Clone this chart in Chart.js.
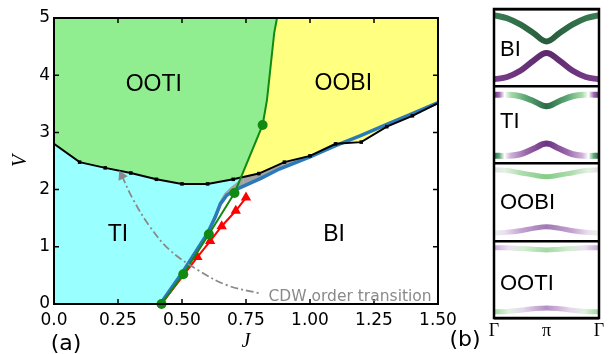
<!DOCTYPE html>
<html>
<head>
<meta charset="utf-8">
<script src="https://cdn.jsdelivr.net/npm/chart.js@4.4.1/dist/chart.umd.min.js"></script>
<style>
  body { margin: 0; background: #fff; }
  #wrap { position: relative; width: 611px; height: 354px; }
  #phaseBox { position: absolute; left: 0; top: 0; width: 611px; height: 354px; }
  #bandBox { position: absolute; left: 470px; top: 0; width: 141px; height: 354px; }
</style>
</head>
<body>
<div id="wrap">
  <div id="phaseBox"><canvas id="phaseChart"></canvas></div>
  <div id="bandBox"><canvas id="bandChart"></canvas></div>
</div>
<script>
// (a) phase boundaries as (J, V)
const blackJ = [0, 0.1, 0.2, 0.3, 0.4, 0.5, 0.6, 0.7, 0.8, 0.9, 1.0, 1.1, 1.2, 1.3, 1.4, 1.5];
const blackV = [2.80, 2.48, 2.38, 2.29, 2.18, 2.10, 2.10, 2.18, 2.28, 2.48, 2.59, 2.80, 2.83, 3.10, 3.29, 3.51];

const greenJ = [0.42, 0.505, 0.605, 0.705, 0.815, 0.832, 0.846, 0.86, 0.871];
const greenV = [0, 0.52, 1.22, 1.94, 3.13, 3.57, 4.15, 4.73, 5.0];

const blueJ = [0.415, 0.5, 0.6, 0.63, 0.65, 0.675, 0.71, 0.76, 0.81, 0.88, 1.0, 1.1, 1.2, 1.3, 1.4, 1.5];
const blueV = [0, 0.54, 1.24, 1.52, 1.75, 1.9, 2.0, 2.1, 2.2, 2.36, 2.57, 2.77, 2.95, 3.14, 3.33, 3.52];

// right edge of the TI (cyan) region, a bit left of the blue curve near the top
const tiEdgeJ = [0.415, 0.5, 0.6, 0.625, 0.645, 0.665, 0.69, 0.715, 0.74];
const tiEdgeV = [0, 0.54, 1.24, 1.55, 1.78, 1.93, 2.04, 2.13, 2.22];

const redJ = [0.42, 0.56, 0.61, 0.655, 0.71, 0.75];
const redV = [0, 0.82, 1.1, 1.36, 1.63, 1.86];

const arrowJ = [0.265, 0.31, 0.375, 0.453, 0.56, 0.675, 0.8];
const arrowV = [2.24, 1.82, 1.35, 0.94, 0.60, 0.33, 0.19];

// black and green curves cross here
const crossJ = 0.729;
const crossV = 2.21;

// (b) band sketches: k in units of pi, height as fraction of each panel
const kPos = [0, 0.25, 0.5, 0.75, 1, 1.25, 1.5, 1.75, 2];
const kLabels = ['Γ', 'π', 'Γ'];
const biUpper = [0.92, 0.88, 0.80, 0.69, 0.58, 0.69, 0.80, 0.88, 0.92];
const biLower = [0.09, 0.12, 0.20, 0.33, 0.43, 0.33, 0.20, 0.12, 0.09];
const tiUpper = [0.89, 0.89, 0.87, 0.81, 0.74, 0.81, 0.87, 0.89, 0.89];
const tiLower = [0.10, 0.10, 0.12, 0.19, 0.26, 0.19, 0.12, 0.10, 0.10];
const oobiUpper = [0.92, 0.91, 0.88, 0.85, 0.83, 0.85, 0.88, 0.91, 0.92];
const oobiLower = [0.10, 0.11, 0.13, 0.16, 0.18, 0.16, 0.13, 0.11, 0.10];
const ootiUpper = [0.91, 0.91, 0.90, 0.89, 0.88, 0.89, 0.90, 0.91, 0.91];
const ootiLower = [0.08, 0.085, 0.10, 0.12, 0.13, 0.12, 0.10, 0.085, 0.08];

const toPts = (xs, ys) => xs.map((x, i) => ({x: x, y: ys[i]}));

const blackPts = toPts(blackJ, blackV);
const greenPts = toPts(greenJ, greenV);
const tiEdgePts = toPts(tiEdgeJ, tiEdgeV);
const edgeEnd = tiEdgePts[tiEdgePts.length - 1];
const ootiEdge = blackPts.filter(p => p.x < crossJ)
  .concat([{x: crossJ, y: crossV}], greenPts.filter(p => p.y > crossV));
const tiTop = blackPts.filter(p => p.x < edgeEnd.x).concat([edgeEnd]);

const GRAY = '#a3a3a3';

// fills first (higher order = drawn earlier), then the curves
function area(data, fill, color, order) {
  return {data: data, showLine: true, fill: fill, backgroundColor: color,
    borderWidth: 0, pointRadius: 0, order: order};
}

new Chart(document.getElementById('phaseChart'), {
  type: 'scatter',
  data: {
    datasets: [
      area(blackPts, 'origin', GRAY, 100),
      area(tiTop, 'origin', '#99ffff', 95),
      area(tiEdgePts, 'origin', GRAY, 90),
      area(toPts(blueJ, blueV), 'origin', '#ffffff', 85),
      area(blackPts, 'end', '#ffff80', 80),
      area(ootiEdge, 'end', '#90ee90', 75),
      {data: toPts(blueJ, blueV), showLine: true, borderColor: '#2a7ab9', borderWidth: 3.5,
        pointRadius: 0, order: 10},
      {data: blackPts, showLine: true, borderColor: '#000', borderWidth: 2,
        pointStyle: 'rect', pointRadius: blackJ.map((j, i) => (i === 0 || i === blackJ.length - 1) ? 0 : 2.5),
        pointBackgroundColor: '#000', pointBorderWidth: 0, order: 9},
      {data: toPts(redJ, redV), showLine: true, borderColor: '#ff0000', borderWidth: 2,
        pointStyle: 'triangle', pointRadius: redJ.map((j, i) => i === 0 ? 0 : 6),
        pointBackgroundColor: '#ff0000', pointBorderWidth: 0, order: 8, clip: false},
      {data: greenPts, showLine: true, borderColor: '#108a10', borderWidth: 2,
        pointStyle: 'circle', pointRadius: greenJ.map((j, i) => i < 5 ? 5 : 0),
        pointBackgroundColor: '#108a10', pointBorderWidth: 0, order: 7, clip: false},
      {data: toPts(arrowJ, arrowV), showLine: true, borderColor: '#8a8a8a', borderWidth: 1.8,
        borderDash: [8, 3, 2, 3], tension: 0.4,
        pointStyle: 'triangle', pointRotation: -26, pointRadius: arrowJ.map((j, i) => i === 0 ? 6 : 0),
        pointBackgroundColor: '#8a8a8a', pointBorderWidth: 0, order: 6}
    ]
  },
  options: {
    responsive: true,
    maintainAspectRatio: false,
    animation: false,
    devicePixelRatio: 1,
    layout: {padding: {left: 0, top: 18, right: 173, bottom: 0}},
    plugins: {legend: {display: false}, tooltip: {enabled: false}},
    scales: {
      x: {
        type: 'linear', min: 0, max: 1.5,
        afterFit: s => { s.height = 50; },
        ticks: {stepSize: 0.25, padding: 6, color: '#000', maxRotation: 0, autoSkip: false,
          font: {family: 'DejaVu Sans', size: 17},
          callback: v => v === 0 ? '0.0' : v.toFixed(2)},
        grid: {display: false, drawTicks: false},
        border: {display: false},
        title: {display: true, text: 'J', color: '#000', padding: {top: 0, bottom: 0},
          font: {family: 'Liberation Serif', style: 'italic', size: 20}}
      },
      y: {
        min: 0, max: 5,
        afterFit: s => { s.width = 54; },
        ticks: {stepSize: 1, padding: 4, color: '#000', font: {family: 'DejaVu Sans', size: 17}},
        grid: {display: false, drawTicks: false},
        border: {display: false},
        title: {display: true, text: 'V', color: '#000', padding: {top: 9, bottom: 0},
          font: {family: 'Liberation Serif', style: 'italic', size: 20}}
      }
    }
  },
  plugins: [{
    id: 'phaseDecor',
    afterDraw(chart) {
      const {ctx, chartArea: a, scales: {x, y}} = chart;
      ctx.save();
      // inward ticks on all four sides
      ctx.strokeStyle = '#000';
      ctx.lineWidth = 1.5;
      ctx.beginPath();
      x.ticks.forEach(t => {
        const px = x.getPixelForValue(t.value);
        ctx.moveTo(px, a.bottom); ctx.lineTo(px, a.bottom - 5);
        ctx.moveTo(px, a.top); ctx.lineTo(px, a.top + 5);
      });
      y.ticks.forEach(t => {
        const py = y.getPixelForValue(t.value);
        ctx.moveTo(a.left, py); ctx.lineTo(a.left + 5, py);
        ctx.moveTo(a.right, py); ctx.lineTo(a.right - 5, py);
      });
      ctx.stroke();
      ctx.lineWidth = 2;
      ctx.strokeRect(a.left, a.top, a.right - a.left, a.bottom - a.top);

      // phase names
      ctx.fillStyle = '#000';
      ctx.font = '23px "Liberation Sans"';
      ctx.textAlign = 'center';
      ctx.textBaseline = 'middle';
      [['OOTI', 0.39, 3.83], ['OOBI', 1.13, 3.86], ['TI', 0.25, 1.21], ['BI', 1.094, 1.21]]
        .forEach(l => ctx.fillText(l[0], x.getPixelForValue(l[1]), y.getPixelForValue(l[2])));

      ctx.fillStyle = '#8a8a8a';
      ctx.font = '15.5px "DejaVu Sans"';
      ctx.textAlign = 'left';
      ctx.textBaseline = 'alphabetic';
      ctx.fillText('CDW order transition', x.getPixelForValue(0.838), y.getPixelForValue(0.05));

      ctx.fillStyle = '#000';
      ctx.font = '22px "DejaVu Sans"';
      ctx.textAlign = 'center';
      ctx.textBaseline = 'middle';
      ctx.fillText('(a)', 66, 344);
      ctx.fillText('(b)', 465, 340);
      ctx.restore();
    }
  }]
});

// (b) band sketches
const DG = '#2c6b47', MG = '#5ea877', LG = '#a9dcaa';
const PU = '#6c3380', MP = '#9c6aac', LP = '#cdb2d9';
const bands = [
  // [values, panel offset, half-gradient stops, width]
  [ootiUpper, 0, [[0, '#c6a6d4'], [0.14, '#ebe0f0'], [0.28, '#d2edd2'], [0.5, '#a2d9a3']], 5],
  [ootiLower, 0, [[0, '#9fd6a0'], [0.14, '#e0f2e0'], [0.28, '#e4d6ec'], [0.5, '#b48fc5']], 5],
  [oobiUpper, 1, [[0, '#e4dcea'], [0.1, '#e2f2e2'], [0.25, '#b0deb0'], [0.5, '#86cc88']], 5],
  [oobiLower, 1, [[0, '#e6f2e6'], [0.1, '#ebe0f0'], [0.25, '#c5a5d3'], [0.5, '#a178b4']], 5],
  [tiUpper, 2, [[0, PU], [0.05, MP], [0.1, '#ffffff'], [0.16, LG], [0.3, MG], [0.5, DG]], 6],
  [tiLower, 2, [[0, DG], [0.05, MG], [0.1, '#ffffff'], [0.16, LP], [0.3, MP], [0.5, PU]], 6],
  [biUpper, 3, [[0, '#3a7d54'], [0.5, '#275c3c']], 6],
  [biLower, 3, [[0, '#7b3d8b'], [0.5, '#5c2a6c']], 6]
];

function bandGradient(stops) {
  return function (c) {
    const a = c.chart.chartArea;
    if (!a) return stops[0][1];
    const g = c.chart.ctx.createLinearGradient(a.left, 0, a.right, 0);
    stops.forEach(s => g.addColorStop(s[0], s[1]));
    stops.forEach(s => g.addColorStop(1 - s[0], s[1]));
    return g;
  };
}

new Chart(document.getElementById('bandChart'), {
  type: 'scatter',
  data: {
    datasets: bands.map(b => ({
      data: toPts(kPos, b[0].map(v => v + b[1])),
      showLine: true, tension: 0.4, borderColor: bandGradient(b[2]), borderWidth: b[3],
      pointRadius: 0, fill: false
    }))
  },
  options: {
    responsive: true,
    maintainAspectRatio: false,
    animation: false,
    devicePixelRatio: 1,
    layout: {padding: {left: 24, top: 9, right: 12, bottom: 0}},
    plugins: {legend: {display: false}, tooltip: {enabled: false}},
    scales: {
      x: {
        type: 'linear', min: 0, max: 2,
        afterFit: s => { s.height = 36; },
        ticks: {stepSize: 1, padding: 2, color: '#000', maxRotation: 0, autoSkip: false,
          font: {family: 'Liberation Serif', size: 18},
          callback: v => kLabels[v]},
        grid: {display: false, drawTicks: false},
        border: {display: false}
      },
      y: {
        min: 0, max: 4,
        afterFit: s => { s.width = 0; },
        ticks: {stepSize: 1, display: false},
        grid: {color: '#000', lineWidth: 2.5, drawTicks: false},
        border: {display: false}
      }
    }
  },
  plugins: [{
    id: 'bandDecor',
    afterDraw(chart) {
      const {ctx, chartArea: a, scales: {y}} = chart;
      ctx.save();
      ctx.strokeStyle = '#000';
      ctx.lineWidth = 2.5;
      ctx.strokeRect(a.left, a.top, a.right - a.left, a.bottom - a.top);
      ctx.fillStyle = '#000';
      ctx.font = '22px "Liberation Sans"';
      ctx.textAlign = 'left';
      ctx.textBaseline = 'middle';
      [['OOTI', 0.44], ['OOBI', 1.49], ['TI', 2.54], ['BI', 3.47]]
        .forEach(l => ctx.fillText(l[0], a.left + 6, y.getPixelForValue(l[1])));
      ctx.restore();
    }
  }]
});
</script>
</body>
</html>
